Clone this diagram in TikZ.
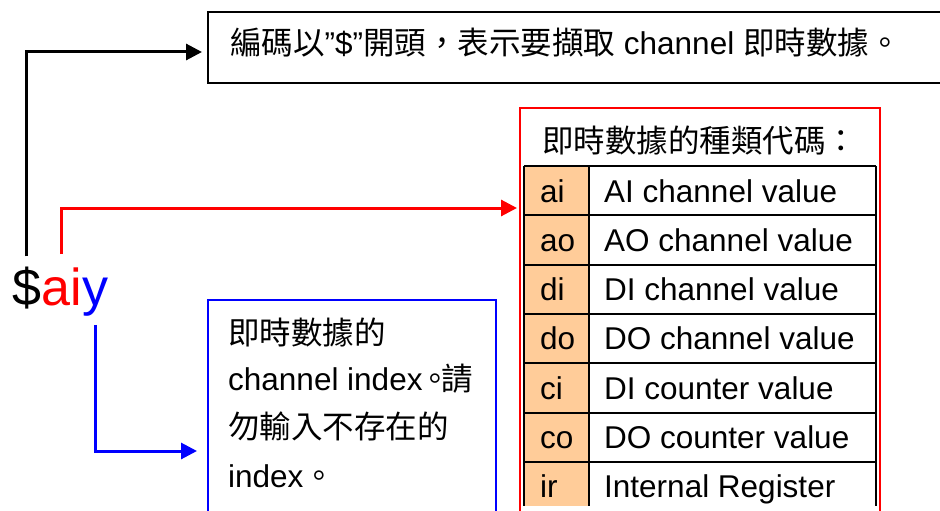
\documentclass[tikz,border=0pt]{standalone}
\usepackage{fontspec}
\setmainfont{Liberation Sans}
\newfontfamily\cjk{Noto Sans CJK TC}
\usetikzlibrary{arrows.meta}
\definecolor{peach}{HTML}{FFCC99}
\definecolor{pred}{HTML}{FF0000}
\definecolor{pblue}{HTML}{0000FF}
\begin{document}
\begin{tikzpicture}[x=1pt,y=-1pt,
  txt/.style={inner sep=0pt, anchor=base west, font=\fontsize{31.5}{37}\selectfont},
  big/.style={inner sep=0pt, anchor=base west, font=\fontsize{52}{60}\selectfont},
  conn/.style={line width=3pt, -{Triangle[length=16pt,width=16pt]}},
  boxed/.style={anchor=north west, inner sep=0pt}]
\useasboundingbox (0,0) rectangle (940,511);
\clip (0,0) rectangle (940,511);

% boxes
\node[boxed, draw, line width=2pt, minimum width=745pt, minimum height=71pt] (topbox) at (207,11) {};
\node[boxed, draw=pred, line width=1.7pt, minimum width=360pt, minimum height=420pt] (redbox) at (519,107) {};
\node[boxed, draw=pblue, line width=2pt, minimum width=288pt, minimum height=250pt] (bluebox) at (207,299) {};

% top box text
\node[txt] (toptext) at (230,55) {{\cjk 編碼以}"\$"{\cjk 開頭，表示要擷取} channel {\cjk 即時數據。}};

% header of table
\node[txt] (header) at (542,152) {\cjk 即時數據的種類代碼：};

% table
\fill[peach] (524,166) rectangle (589,506);
\foreach \i/\c/\d in {0/ai/AI channel value,1/ao/AO channel value,2/di/DI channel value,3/do/DO channel value,4/ci/DI counter value,5/co/DO counter value,6/ir/Internal Register}{
  \draw[line width=2pt] (524,166+49.33*\i) -- (876,166+49.33*\i);
  \node[txt] (code\i) at (540,202+49.33*\i) {\c};
  \node[txt] (desc\i) at (604,202+49.33*\i) {\d};
}
\draw[line width=2pt] (524,166) -- (524,506) (589,166) -- (589,506) (876,166) -- (876,506);

% blue box text
\node[txt] (blue1) at (228,344) {\cjk 即時數據的};
\node[txt] (blue2) at (228,390) {channel index{\cjk \kern-3pt。\kern-10pt 請}};
\node[txt] (blue3) at (228,438) {\cjk 勿輸入不存在的};
\node[txt] (blue4) at (228,487) {index{\cjk 。}};

% $aiy
\node[big] (dollar) at (12,305) {\$};
\node[big, text=pred] (ai) at (dollar.base east) {ai};
\node[big, text=pblue] (ylet) at (ai.base east) {y};

% connectors
\draw[conn, shorten >=5pt] ([yshift=10pt]dollar.north) |- ([yshift=-4.5pt]topbox.west);
\draw[conn, draw=pred, shorten >=2pt] ([yshift=13pt]ai.north) |- ([yshift=-101pt]redbox.north west);
\draw[conn, draw=pblue, shorten >=10pt] ([yshift=-9pt]ylet.south) |- ([yshift=-152pt]bluebox.north west);
\end{tikzpicture}
\end{document}
